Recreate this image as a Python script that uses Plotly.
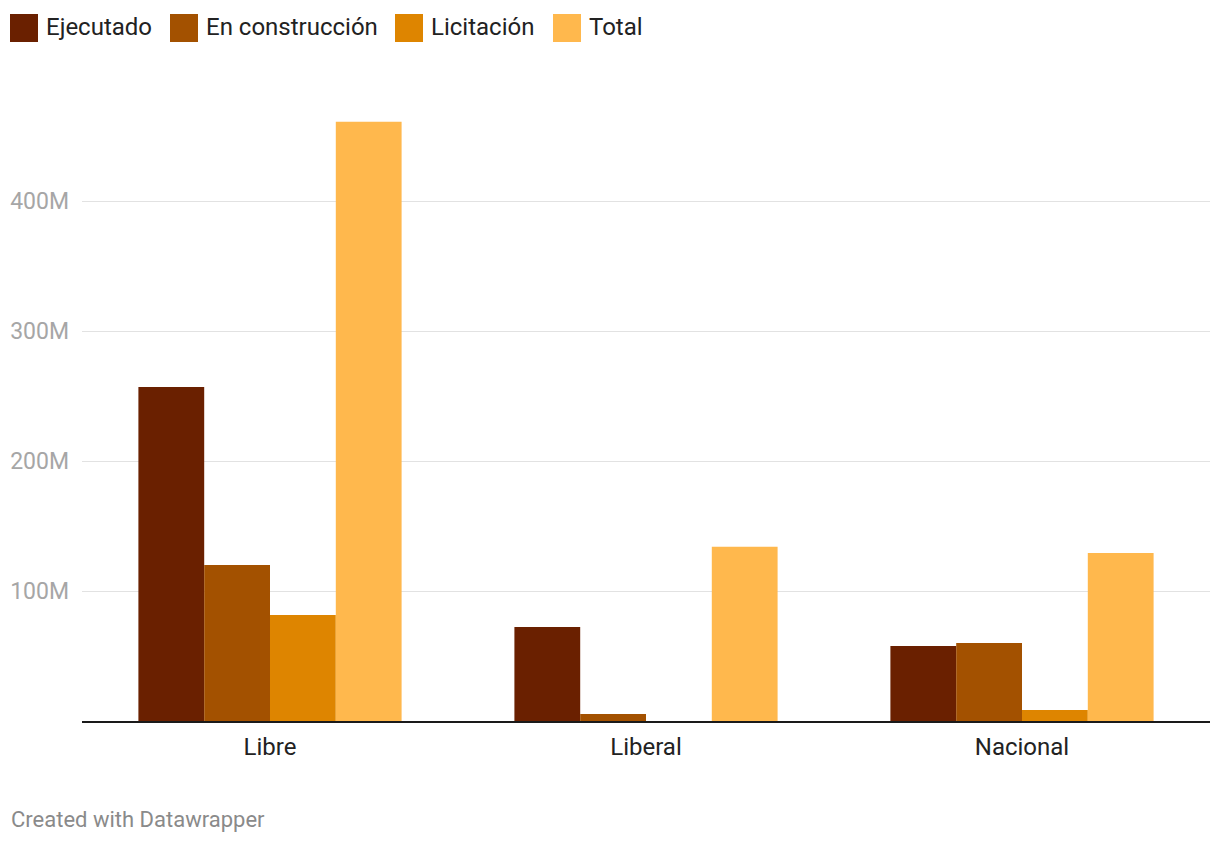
import plotly.graph_objects as go

categories = ["Libre", "Liberal", "Nacional"]
series_names = ["Ejecutado", "En construcción", "Licitación", "Total"]
ejecutado = [257e6, 72.3e6, 57.7e6]
en_construccion = [120e6, 5.4e6, 60e6]
licitacion = [81.5e6, 0, 8.5e6]
total = [461e6, 134e6, 129.2e6]
colors = ["#6a2000", "#a35100", "#de8500", "#ffb84d"]
y_ticks = [100e6, 200e6, 300e6, 400e6]
y_tick_labels = ["100M", "200M", "300M", "400M"]

OFF = 8  # page body margin offset
W, H = 1220 - OFF, 844 - OFF
ML, MR, MT, MB = 82 - OFF, 10, 110 - OFF, 123
PW, PH = W - ML - MR, H - MT - MB

def px_x(x):
    return (x - OFF - ML) / PW

def px_y(y):
    return (H - MB - (y - OFF)) / PH

fig = go.Figure()
for name, vals, col in zip(series_names, [ejecutado, en_construccion, licitacion, total], colors):
    fig.add_trace(go.Bar(x=categories, y=vals, name=name, marker=dict(color=col, line=dict(width=0)),
                         hoverinfo="x+y+name"))

shapes = []
annotations = []
legend_x = [10, 170, 395, 553]
for name, col, lx in zip(series_names, colors, legend_x):
    shapes.append(dict(type="rect", xref="paper", yref="paper",
                       x0=px_x(lx), x1=px_x(lx + 28), y0=px_y(42), y1=px_y(14),
                       fillcolor=col, line=dict(width=0)))
    annotations.append(dict(text=name, xref="paper", yref="paper", x=px_x(lx + 34), y=px_y(27),
                            xanchor="left", yanchor="middle", showarrow=False,
                            font=dict(size=24, color="#222222", family="Roboto")))
annotations.append(dict(text="Created with Datawrapper", xref="paper", yref="paper",
                        x=px_x(9), y=px_y(819), xanchor="left", yanchor="middle", showarrow=False,
                        font=dict(size=22, color="#8a8a8a", family="Roboto")))

fig.update_layout(
    width=W, height=H,
    margin=dict(l=ML, r=MR, t=MT, b=MB, pad=0, autoexpand=False),
    barmode="group", bargap=0.3, bargroupgap=0,
    plot_bgcolor="white", paper_bgcolor="white",
    showlegend=False,
    font=dict(family="Roboto", size=24, color="#222222"),
    shapes=shapes, annotations=annotations,
    xaxis=dict(showline=True, linecolor="#1a1a1a", linewidth=2, showgrid=False, ticks="",
               tickfont=dict(size=24, color="#222222"), ticklabelstandoff=3, fixedrange=True,
               automargin=False),
    yaxis=dict(range=[0, 470e6], tickvals=y_ticks, ticktext=y_tick_labels, showgrid=True,
               gridcolor="#e2e2e2", gridwidth=1, zeroline=False, ticks="", showline=False,
               tickfont=dict(size=23, color="#a6a6a6"), ticklabelstandoff=12, fixedrange=True,
               automargin=False),
)

fig.write_html("out.html")
